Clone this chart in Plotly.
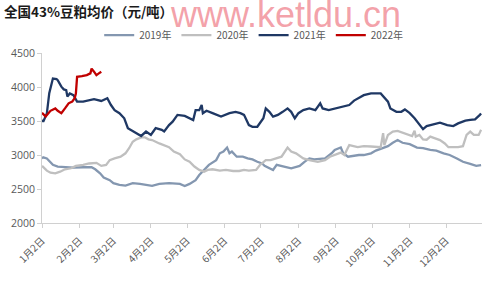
import plotly.graph_objects as go

# ---------------- data (month-day, value) ----------------
dates_2019 = ["01-02","01-03","01-06","01-09","01-11","01-15","01-21","01-28","02-05","02-12",
              "02-15","02-19","02-22","02-27","03-02","03-07","03-12","03-18","03-24","03-29",
              "04-03","04-09","04-17","04-26","04-30","05-04","05-09","05-12","05-16","05-20",
              "05-26","05-29","06-01","06-04","06-06","06-08","06-12","06-17","06-21","06-25",
              "06-29","07-03","07-05","07-10","07-12","07-15","07-19","07-23","07-27","08-01",
              "08-03","08-07","08-11","08-15","08-24","08-30","09-01","09-06","09-08","09-12",
              "09-17","09-21","09-25","10-01","10-05","10-11","10-15","10-19","10-23","10-27",
              "11-02","11-08","11-13","11-19","11-24","11-30","12-05","12-11","12-16","12-22",
              "12-27","12-31"]
values_2019 = [2950,2965,2950,2900,2855,2830,2820,2815,2820,2820,
               2790,2730,2670,2630,2585,2560,2550,2585,2575,2560,
               2545,2575,2585,2575,2545,2575,2630,2705,2780,2855,
               2925,3025,3050,3110,3025,3050,2975,2975,2950,2935,
               2900,2875,2840,2805,2780,2855,2840,2820,2805,2830,
               2840,2900,2950,2935,2950,3035,3075,3110,3025,2975,
               2990,3000,3000,3025,3065,3110,3130,3180,3220,3180,
               3160,3110,3100,3075,3065,3025,3000,2950,2900,2870,
               2840,2850]

dates_2020 = ["01-02","01-03","01-06","01-09","01-13","01-17","01-21","01-26","01-30","02-05",
              "02-10","02-16","02-20","02-24","02-27","03-03","03-08","03-12","03-15","03-18",
              "03-21","03-25","03-28","03-31","04-03","04-09","04-14","04-17","04-21","04-26",
              "04-30","05-04","05-08","05-12","05-16","05-19","05-23","05-29","06-03","06-09",
              "06-14","06-18","06-22","06-28","07-01","07-06","07-10","07-19","07-24","07-27",
              "07-31","08-06","08-11","08-18","08-24","08-28","09-06","09-09","09-11","09-13",
              "09-20","09-25","10-01","10-09","10-11","10-12","10-15","10-19","10-23","10-27",
              "10-31","11-04","11-06","11-07","11-10","11-13","11-16","11-19","11-23","11-27",
              "12-01","12-04","12-12","12-16","12-19","12-22","12-25","12-29","12-31"]
values_2020 = [2840,2820,2770,2740,2730,2755,2790,2805,2840,2855,
               2875,2885,2840,2855,2925,2950,2975,3025,3100,3195,
               3230,3260,3260,3230,3220,3170,3130,3115,3050,3010,
               2935,2900,2830,2780,2755,2780,2790,2770,2780,2765,
               2765,2780,2770,2780,2850,2925,2925,2975,3110,3050,
               3025,2950,2925,2900,2925,2975,3035,3000,3075,3145,
               3115,3130,3125,3115,3320,3145,3295,3345,3355,3330,
               3295,3280,3355,3270,3295,3230,3225,3270,3245,3220,
               3170,3115,3115,3130,3295,3345,3295,3295,3370]

dates_2021 = ["01-02","01-03","01-06","01-08","01-11","01-14","01-15","01-18","01-20","01-22",
              "01-23","01-25","01-28","01-31","02-05","02-10","02-14","02-20","02-25","02-28",
              "03-03","03-07","03-11","03-14","03-18","03-22","03-25","03-29","04-02","04-04",
              "04-06","04-11","04-13","04-17","04-20","04-24","04-30","05-07","05-09","05-12",
              "05-14","05-15","05-18","05-23","05-30","06-06","06-11","06-15","06-18","06-22",
              "06-25","06-29","07-02","07-04","07-06","07-09","07-12","07-16","07-20","07-24",
              "07-27","07-30","08-02","08-06","08-11","08-16","08-20","08-22","08-27","09-01",
              "09-08","09-13","09-17","09-21","09-25","10-01","10-09","10-15","10-17","10-22",
              "10-26","10-29","11-02","11-06","11-10","11-13","11-16","11-22","11-27","12-03",
              "12-08","12-12","12-18","12-22","12-26","12-30","12-31"]
values_2021 = [3515,3490,3610,3910,4125,4115,4100,4005,3965,3955,
               3860,3905,3880,3785,3785,3800,3820,3795,3835,3735,
               3660,3615,3540,3395,3355,3320,3280,3345,3295,3345,
               3395,3370,3345,3440,3490,3590,3575,3515,3660,3660,
               3735,3615,3650,3615,3565,3615,3635,3615,3590,3440,
               3415,3415,3490,3540,3685,3635,3565,3590,3635,3685,
               3635,3540,3615,3660,3685,3660,3760,3685,3660,3685,
               3710,3735,3800,3835,3880,3905,3905,3785,3685,3635,
               3635,3670,3615,3540,3440,3380,3425,3455,3475,3440,
               3425,3465,3505,3515,3525,3590,3610]

dates_2022 = ["01-02","01-03","01-05","01-09","01-13","01-15","01-18","01-21","01-24","01-27",
              "01-29","01-30","01-31","02-04","02-08","02-11","02-12","02-14","02-16","02-18",
              "02-20"]
values_2022 = [3620,3600,3565,3650,3685,3650,3615,3685,3760,3785,
               3835,3905,4150,4160,4175,4200,4270,4225,4175,4200,
               4225]

series_names = ["2019年", "2020年", "2021年", "2022年"]
series_colors = ["#8497B0", "#BFBFBF", "#1F3864", "#C00000"]

tick_dates = ["01-02","02-02","03-02","04-02","05-02","06-02",
              "07-02","08-02","09-02","10-02","11-02","12-02"]
tick_labels = ["1月2日","2月2日","3月2日","4月2日","5月2日","6月2日",
               "7月2日","8月2日","9月2日","10月2日","11月2日","12月2日"]

title_text = "全国43%豆粕均价（元/吨）"
watermark_text = "www.ketldu.cn"

YEAR = "2021-"  # common dummy year for month/day axis

def full(ds):
    return [YEAR + d for d in ds]

fig = go.Figure()
all_dates = [dates_2019, dates_2020, dates_2021, dates_2022]
all_vals = [values_2019, values_2020, values_2021, values_2022]
for name, color, ds, vs in zip(series_names, series_colors, all_dates, all_vals):
    fig.add_trace(go.Scatter(x=full(ds), y=vs, mode="lines", name=name,
                             line=dict(color=color, width=2.3)))

axis_col = "#D0D0D0"
txt_col = "#595959"
fig.update_layout(
    width=498, height=282,
    margin=dict(l=42, r=16, t=53, b=59),
    paper_bgcolor="white", plot_bgcolor="white",
    font=dict(family="Noto Sans CJK SC, Noto Sans, sans-serif", color=txt_col, size=10),
    showlegend=True,
    legend=dict(orientation="h", x=0.13, xanchor="left", y=1.105, yanchor="middle",
                font=dict(size=10, color=txt_col), itemwidth=30,
                bgcolor="rgba(0,0,0,0)", tracegroupgap=0),
    title=dict(text="<b>" + title_text + "</b>", x=0.008, xanchor="left",
               y=0.955, yanchor="middle", xref="container", yref="container",
               font=dict(size=13.5, color="#1A1A1A",
                         family="Noto Sans CJK SC, sans-serif")),
)
fig.update_xaxes(
    type="date", range=[YEAR + "01-02", YEAR + "12-31 18:00"],
    tickmode="array", tickvals=full(tick_dates), ticktext=tick_labels,
    tickangle=-45, tickfont=dict(size=10, color=txt_col),
    ticklabelstandoff=3,
    showline=True, linecolor=axis_col, linewidth=1,
    ticks="outside", ticklen=4, tickcolor=axis_col,
    showgrid=False, zeroline=False,
)
fig.update_yaxes(
    range=[2000, 4500], dtick=500, tick0=2000,
    tickfont=dict(size=10.5, color=txt_col, family="Open Sans, sans-serif"),
    showline=True, linecolor=axis_col, linewidth=1,
    ticks="outside", ticklen=4, tickcolor=axis_col,
    showgrid=False, zeroline=False,
)
fig.add_annotation(
    text=watermark_text, xref="paper", yref="paper",
    x=0.553, y=1.228, xanchor="center", yanchor="middle", showarrow=False,
    font=dict(size=36, color="rgba(236,100,112,0.6)",
              family="Liberation Sans, Arial, sans-serif"),
)

fig.write_html("out.html")
